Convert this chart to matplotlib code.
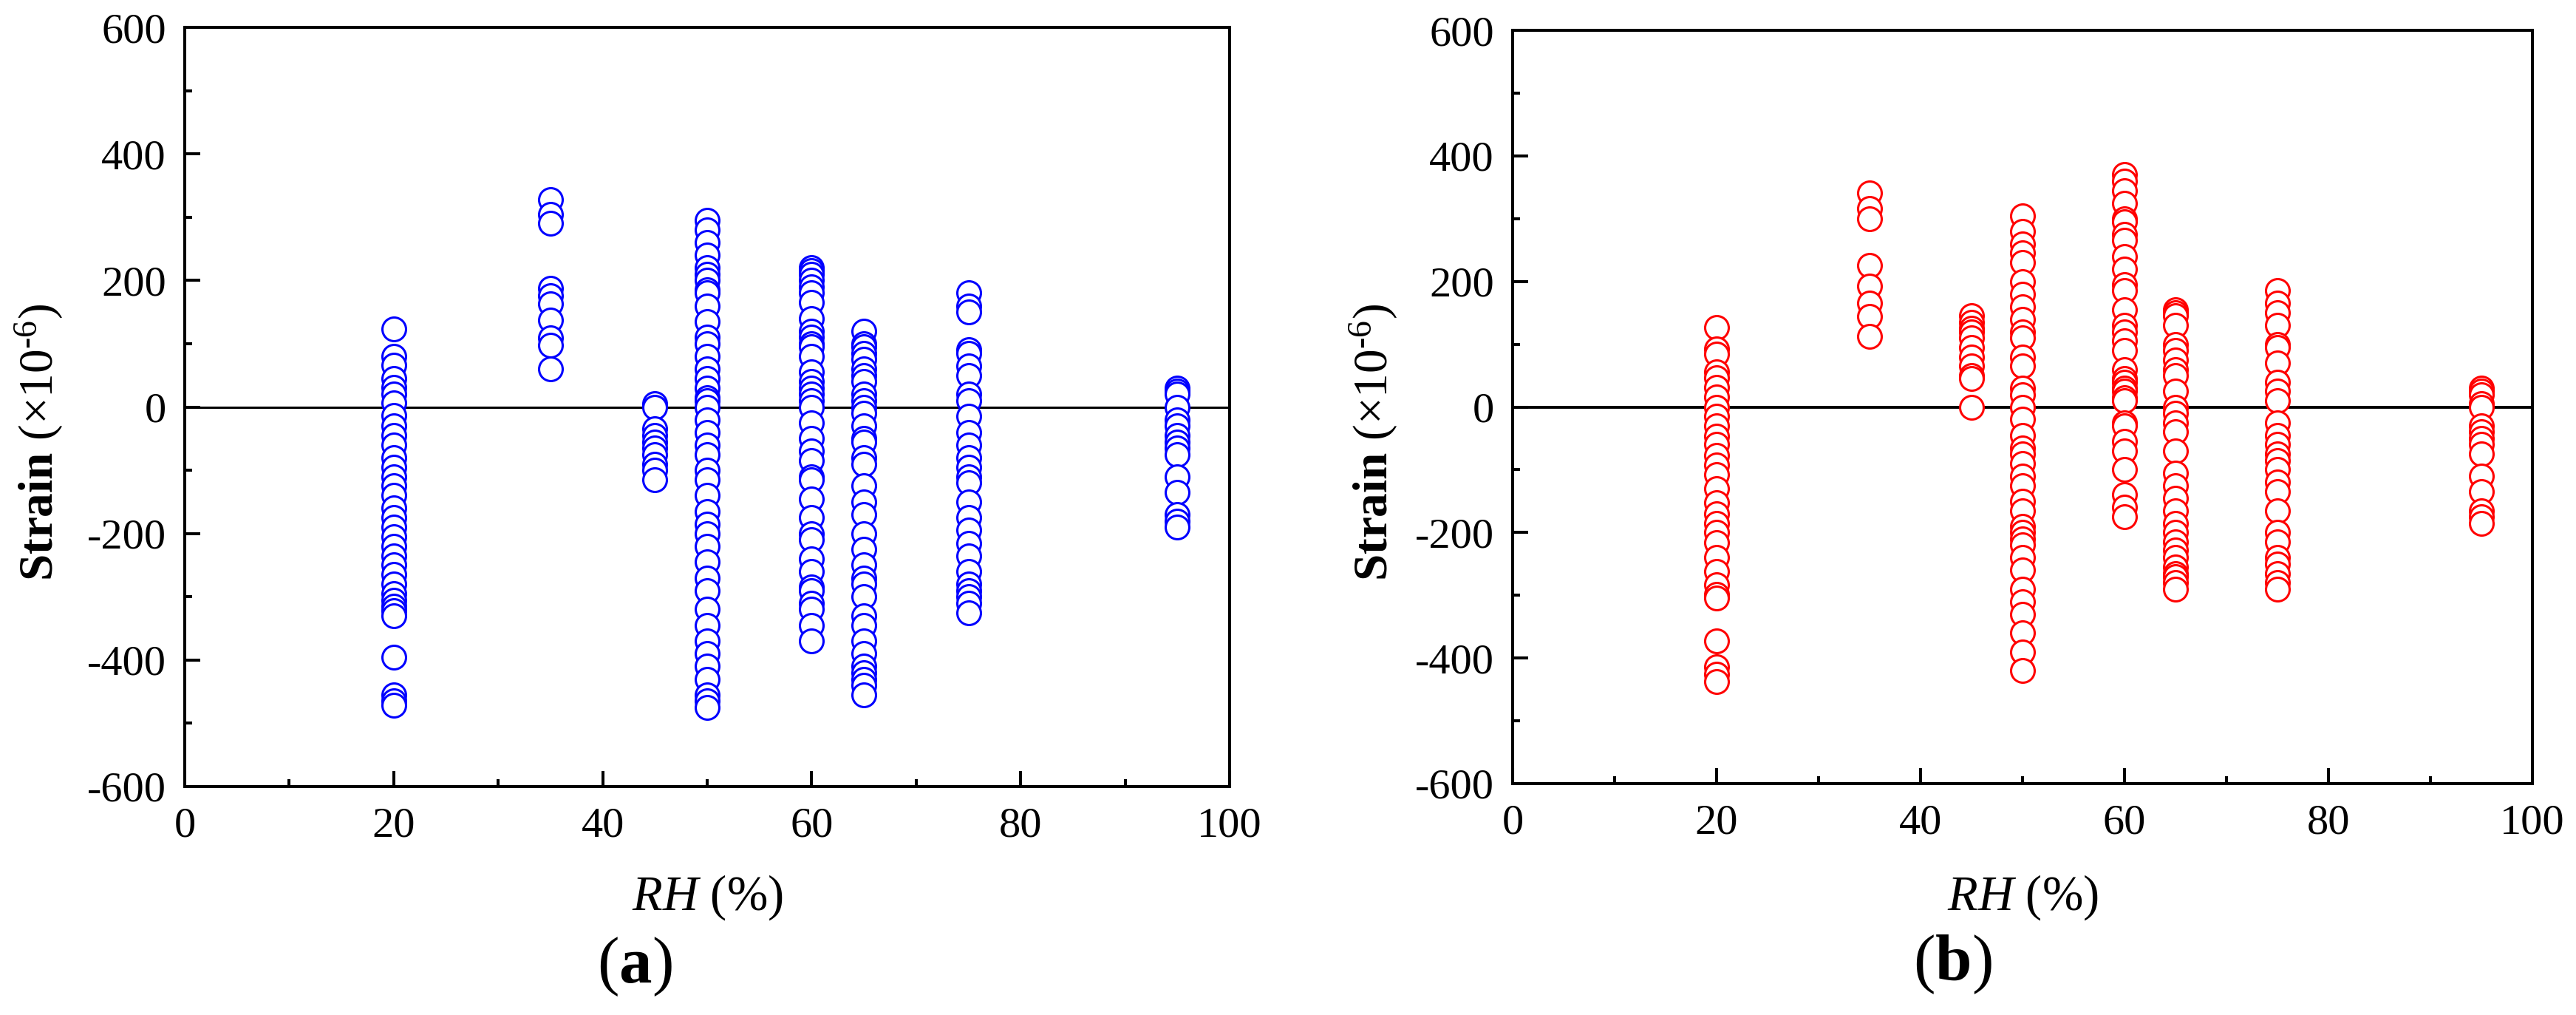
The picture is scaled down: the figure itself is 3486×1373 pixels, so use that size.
import numpy as np
import matplotlib.pyplot as plt
from matplotlib.ticker import MultipleLocator

plt.rcParams['font.family'] = 'serif'
plt.rcParams['font.serif'] = ['Liberation Serif', 'DejaVu Serif']
plt.rcParams['mathtext.fontset'] = 'custom'
plt.rcParams['mathtext.rm'] = 'Liberation Serif'
plt.rcParams['mathtext.it'] = 'Liberation Serif:italic'
plt.rcParams['mathtext.bf'] = 'Liberation Serif:bold'
plt.rcParams['axes.unicode_minus'] = False

# Valores: deformação (x10^-6) para cada umidade relativa
rh_niveis = [20, 35, 45, 50, 60, 65, 75, 95]

strain_a = {
    20: [123, 80, 66, 45, 31, 20, 6, -14, -30, -45, -60, -80, -95, -110, -125, -140, -160,
         -175, -190, -205, -220, -235, -250, -265, -280, -295, -305, -315, -322, -330,
         -395, -455, -465, -472],
    35: [328, 304, 290, 188, 176, 163, 137, 109, 98, 60],
    45: [5, 0, -35, -45, -55, -65, -75, -90, -100, -115],
    50: [295, 280, 260, 240, 220, 210, 200, 185, 180, 160, 135, 110, 100, 80, 60, 45, 30,
         15, 10, 0, -20, -40, -60, -75, -100, -115, -140, -165, -185, -200, -220, -245,
         -270, -290, -320, -345, -370, -390, -410, -430, -455, -465, -475],
    60: [220, 215, 210, 200, 190, 180, 165, 140, 120, 110, 100, 95, 80, 55, 40, 30, 20,
         10, 0, -25, -50, -70, -85, -110, -115, -145, -175, -200, -210, -240, -260, -285,
         -290, -310, -320, -345, -370],
    65: [120, 100, 95, 85, 75, 60, 50, 40, 20, 10, 0, -10, -30, -50, -55, -80, -90, -125,
         -150, -170, -200, -225, -250, -270, -280, -300, -330, -345, -370, -390, -410,
         -420, -430, -440, -455],
    75: [180, 160, 150, 90, 85, 65, 50, 20, 10, -15, -40, -60, -80, -95, -110, -120, -150,
         -175, -195, -215, -235, -260, -280, -290, -300, -310, -325],
    95: [30, 25, 20, 0, -20, -30, -45, -55, -65, -75, -110, -135, -170, -180, -190],
}

strain_b = {
    20: [127, 92, 84, 56, 46, 31, 16, 0, -15, -30, -46, -60, -77, -92, -108, -130, -152,
         -170, -185, -200, -216, -240, -262, -283, -298, -305, -373, -414, -426, -437],
    35: [341, 316, 300, 226, 193, 165, 144, 113],
    45: [145, 135, 125, 120, 110, 95, 80, 65, 50, 45, 0],
    50: [305, 280, 260, 245, 230, 200, 180, 160, 140, 120, 110, 80, 65, 30, 20, 0, -20,
         -45, -65, -75, -90, -110, -125, -150, -165, -190, -200, -210, -220, -240, -260,
         -290, -310, -330, -360, -390, -420],
    60: [370, 360, 345, 325, 300, 295, 275, 265, 240, 220, 195, 185, 155, 130, 120, 105,
         90, 60, 45, 40, 30, 25, 15, 10, -25, -30, -55, -70, -100, -140, -160, -175],
    65: [155, 150, 145, 130, 100, 90, 75, 60, 50, 25, 0, -10, -25, -40, -70, -105, -125,
         -145, -165, -185, -200, -215, -228, -240, -255, -265, -270, -280, -290],
    75: [185, 165, 150, 130, 100, 95, 70, 40, 25, 10, -25, -45, -60, -75, -85, -100, -120,
         -135, -165, -200, -215, -240, -250, -265, -280, -290],
    95: [30, 25, 20, 5, 0, -30, -40, -50, -60, -75, -110, -135, -165, -175, -185],
}

fig = plt.figure(figsize=(34.87, 13.73), dpi=100)
ax_a = fig.add_axes([250 / 3487, 1 - 1064 / 1373, 1414 / 3487, 1027 / 1373])
ax_b = fig.add_axes([2047 / 3487, 1 - 1060 / 1373, 1380 / 3487, 1019 / 1373])


def desenhar(ax, dados, cor, lw_zero):
    ax.axhline(0, color='black', linewidth=lw_zero, zorder=1)
    for rh in rh_niveis:
        valores = dados[rh]
        ax.plot([rh] * len(valores), valores, linestyle='none', marker='o',
                markersize=23, markerfacecolor='white', markeredgecolor=cor,
                markeredgewidth=2.2, zorder=3)
    ax.set_xlim(0, 100)
    ax.set_ylim(-600, 600)
    ax.xaxis.set_major_locator(MultipleLocator(20))
    ax.xaxis.set_minor_locator(MultipleLocator(10))
    ax.yaxis.set_major_locator(MultipleLocator(200))
    ax.yaxis.set_minor_locator(MultipleLocator(100))
    ax.tick_params(which='both', direction='in', top=False, right=False,
                   width=2.9, labelsize=42)
    ax.tick_params(which='major', length=15)
    ax.tick_params(which='minor', length=7.5)
    ax.tick_params(axis='y', pad=18)
    ax.tick_params(axis='x', pad=20)
    for s in ax.spines.values():
        s.set_linewidth(2.9)


desenhar(ax_a, strain_a, 'blue', 2.2)
desenhar(ax_b, strain_b, 'red', 2.8)

# Rótulos
rotulo_y = r'$\mathbf{Strain}$ ($\times$10$^{\text{-6}}$)'
rotulo_x = r'$\mathit{RH}$ (%)'
for xc, xl in [(53, 957), (1859, 2737)]:
    fig.text(xc / 3487, 1 - 598 / 1373, rotulo_y, rotation=90, ha='center',
             va='center', fontsize=47)
    fig.text(xl / 3487, 1 - 1214 / 1373, rotulo_x, ha='center', va='center',
             fontsize=48)

fig.text(859 / 3487, 1 - 1308 / 1373, r'($\mathbf{a}$)', ha='center', va='center',
         fontsize=64)
fig.text(2642 / 3487, 1 - 1305 / 1373, r'($\mathbf{b}$)', ha='center', va='center',
         fontsize=64)

fig.savefig('out.png', dpi=100, facecolor='white')
